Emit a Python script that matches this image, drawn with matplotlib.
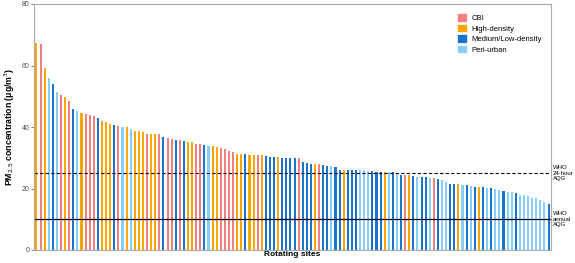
import numpy as np
import matplotlib.pyplot as plt
from matplotlib.patches import Patch

plt.rcParams['font.family'] = ['Liberation Sans', 'DejaVu Sans']

# site groups, in plotting order (sorted by concentration)
# C = CBI, H = high-density, M = medium/low-density, P = peri-urban
groups = list(
    "HCHPMPCHCM" "PHCCCMHHHM" "CPHPHHHCHH" "CMCCMCMHHC" "CMPHHCCCCH"
    "HMHHCHMMMH" "MMMMCMMMHC" "MMPMMHMMMP" "PPMMMHPMPM" "CHMPMMPCMP"
    "PMMHPMPMHM" "PMPPMPPMPP" "PPPPPM"
)
pm25 = [67.3, 66.9, 59.1, 56.0, 53.9, 51.5, 50.4, 49.6, 48.4, 45.7,
        45.3, 44.5, 44.3, 44.0, 43.5, 42.9, 42.0, 41.6, 41.0, 40.5,
        40.4, 40.1, 40.0, 39.5, 38.7, 38.6, 38.4, 37.8, 37.7, 37.7,
        37.7, 36.6, 36.4, 36.2, 35.8, 35.7, 35.3, 35.1, 35.0, 34.5,
        34.4, 34.0, 33.9, 33.8, 33.5, 33.2, 33.0, 32.3, 32.0, 31.2,
        31.1, 31.1, 31.0, 30.9, 30.8, 30.8, 30.5, 30.4, 30.4, 30.1,
        30.0, 29.9, 29.9, 29.9, 29.8, 28.5, 28.2, 28.0, 27.9, 27.9,
        27.6, 27.4, 27.2, 27.1, 26.1, 26.1, 25.9, 25.9, 25.9, 25.9,
        25.9, 25.8, 25.6, 25.5, 25.5, 25.4, 25.3, 25.3, 25.2, 24.4,
        24.3, 24.3, 24.1, 23.9, 23.7, 23.6, 23.4, 23.3, 23.1, 22.8,
        22.1, 21.5, 21.5, 21.5, 21.3, 21.0, 20.7, 20.6, 20.6, 20.5,
        20.2, 20.1, 19.8, 19.4, 19.1, 18.8, 18.8, 18.5, 18.0, 17.9,
        17.6, 16.9, 16.8, 16.2, 15.6, 14.9]

labels = {'C': 'CBI', 'H': 'High-density', 'M': 'Medium/Low-density', 'P': 'Peri-urban'}
colors = {'C': '#F08080', 'H': '#FFA500', 'M': '#1874CD', 'P': '#87CEFA'}

who_24h = 25
who_annual = 10

n = min(len(groups), len(pm25))
x = np.arange(n)

fig = plt.figure(figsize=(5.75, 2.63), dpi=100)
ax = fig.add_axes([34/575, 13/263, 517/575, 246/263])

ax.bar(x, pm25[:n], width=0.5, color=[colors[g] for g in groups[:n]], linewidth=0)
ax.axhline(who_24h, color='black', lw=0.8, ls=(0, (3, 2)))
ax.axhline(who_annual, color='black', lw=0.9)

ax.set_xlim(-0.6, n - 1 + 0.6)
ax.set_ylim(0, 80)
ax.set_yticks([0, 20, 40, 60, 80])
ax.set_xticks([])
ax.tick_params(axis='y', labelsize=5, colors='#4D4D4D', length=2, width=0.5, pad=1.5)
for s in ax.spines.values():
    s.set_color('#AAAAAA')
    s.set_linewidth(0.8)

ax.set_ylabel('PM$_{2.5}$ concentration (\u03bcg/m$^3$)', fontsize=6.3, fontweight='bold', labelpad=3)
ax.set_xlabel('Rotating sites', fontsize=6, fontweight='bold', labelpad=1)

tr = ax.get_yaxis_transform()
ax.text(1.004, who_24h, 'WHO\n24-hour\nAQG', transform=tr, fontsize=4.3, va='center', ha='left',
        linespacing=1.1, clip_on=False)
ax.text(1.004, who_annual, 'WHO\nannual\nAQG', transform=tr, fontsize=4.3, va='center', ha='left',
        linespacing=1.1, clip_on=False)

handles = [Patch(facecolor=colors[k], edgecolor='white', linewidth=0.5, label=labels[k]) for k in 'CHMP']
ax.legend(handles=handles, loc='upper left', bbox_to_anchor=(0.812, 0.975), frameon=False,
          fontsize=5.5, handlelength=1.3, handleheight=1.3, labelspacing=0.25, handletextpad=0.6,
          borderaxespad=0)

fig.savefig('out.png', dpi=100)
